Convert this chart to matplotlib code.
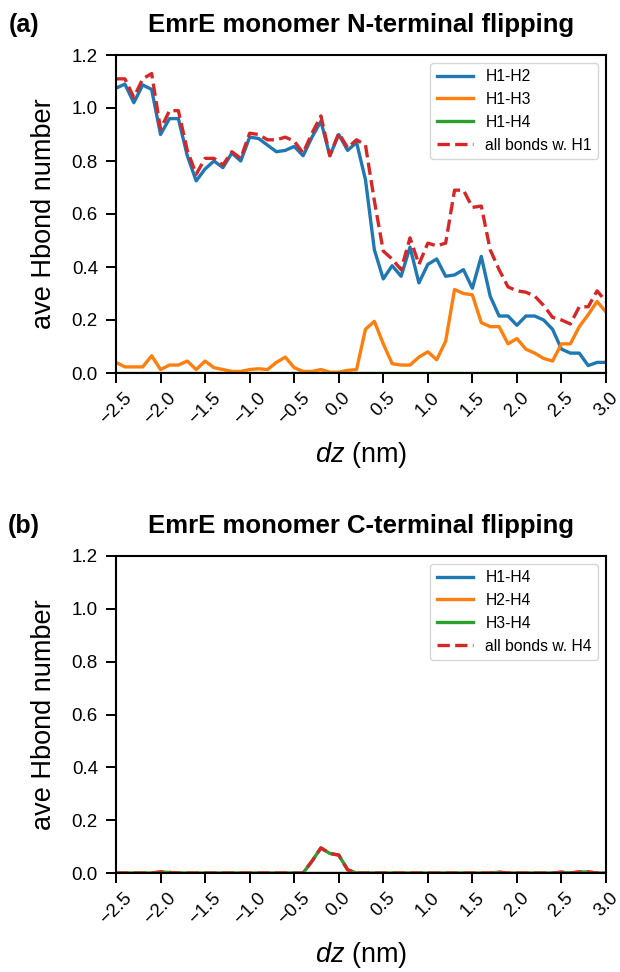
import numpy as np
import matplotlib
matplotlib.use("Agg")
import matplotlib.pyplot as plt

plt.rcParams['font.family'] = ['Liberation Sans', 'DejaVu Sans']
plt.rcParams['mathtext.fontset'] = 'custom'
plt.rcParams['mathtext.it'] = 'Liberation Sans:italic'
plt.rcParams['mathtext.rm'] = 'Liberation Sans'

# ---------------- data ----------------
dz = np.round(np.arange(-2.5, 3.0001, 0.1), 2)

# panel (a): N-terminal flipping
a_h1h2 = [1.075, 1.09, 1.02, 1.087, 1.07, 0.90, 0.96, 0.96, 0.82, 0.725,
          0.77, 0.80, 0.775, 0.83, 0.80, 0.89, 0.885, 0.86, 0.835, 0.84,
          0.855, 0.82, 0.89, 0.95, 0.82, 0.90, 0.84, 0.87, 0.73, 0.465,
          0.355, 0.405, 0.365, 0.475, 0.34, 0.41, 0.43, 0.365, 0.37, 0.39,
          0.32, 0.44, 0.29, 0.215, 0.215, 0.18, 0.215, 0.215, 0.20, 0.165,
          0.09, 0.075, 0.075, 0.028, 0.04, 0.04]
a_h1h3 = [0.04, 0.023, 0.023, 0.023, 0.065, 0.013, 0.03, 0.03, 0.045, 0.013,
          0.045, 0.02, 0.013, 0.006, 0.006, 0.013, 0.016, 0.013, 0.04, 0.06,
          0.02, 0.006, 0.006, 0.013, 0.003, 0.003, 0.01, 0.013, 0.165, 0.195,
          0.11, 0.035, 0.03, 0.03, 0.06, 0.08, 0.05, 0.12, 0.315, 0.30,
          0.295, 0.19, 0.175, 0.175, 0.11, 0.13, 0.09, 0.075, 0.055, 0.045,
          0.11, 0.11, 0.175, 0.22, 0.27, 0.23]
a_h1h4 = [0.0] * 56
a_all = [1.11, 1.11, 1.04, 1.11, 1.13, 0.92, 0.99, 0.99, 0.84, 0.75,
         0.81, 0.81, 0.785, 0.835, 0.81, 0.905, 0.90, 0.88, 0.88, 0.89,
         0.875, 0.83, 0.905, 0.97, 0.82, 0.905, 0.85, 0.88, 0.86, 0.65,
         0.46, 0.43, 0.39, 0.51, 0.41, 0.49, 0.48, 0.49, 0.69, 0.69,
         0.625, 0.63, 0.465, 0.39, 0.325, 0.31, 0.305, 0.29, 0.255, 0.21,
         0.20, 0.185, 0.25, 0.25, 0.31, 0.27]

# panel (b): C-terminal flipping
b_h1h4 = [0.0] * 56
b_h2h4 = [0.0] * 56
b_h3h4 = [0.0, 0.0, 0.0, 0.0, 0.0, 0.004, 0.002, 0.0, 0.0, 0.0,
          0.0, 0.0, 0.0, 0.0, 0.0, 0.0, 0.0, 0.0, 0.0, 0.0,
          0.0, 0.0, 0.045, 0.095, 0.074, 0.068, 0.012, 0.0, 0.0, 0.0,
          0.0, 0.0, 0.0, 0.0, 0.0, 0.0, 0.0, 0.0, 0.0, 0.0,
          0.0, 0.0, 0.0, 0.003, 0.0, 0.0, 0.0, 0.0, 0.0, 0.0,
          0.003, 0.0, 0.004, 0.004, 0.0, 0.0]
b_all = [0.0, 0.0, 0.0, 0.0, 0.0, 0.004, 0.002, 0.0, 0.0, 0.0,
         0.0, 0.0, 0.0, 0.0, 0.0, 0.0, 0.0, 0.0, 0.0, 0.0,
         0.0, 0.0, 0.045, 0.095, 0.074, 0.068, 0.012, 0.0, 0.0, 0.0,
         0.0, 0.0, 0.0, 0.0, 0.0, 0.0, 0.0, 0.0, 0.0, 0.0,
         0.0, 0.0, 0.0, 0.003, 0.0, 0.0, 0.0, 0.0, 0.0, 0.0,
         0.003, 0.0, 0.004, 0.004, 0.0, 0.0]

xticks = [-2.5, -2.0, -1.5, -1.0, -0.5, 0.0, 0.5, 1.0, 1.5, 2.0, 2.5, 3.0]
yticks = [0.0, 0.2, 0.4, 0.6, 0.8, 1.0, 1.2]

titles = ["EmrE monomer N-terminal flipping", "EmrE monomer C-terminal flipping"]
panel_tags = ["(a)", "(b)"]
labels_a = ["H1-H2", "H1-H3", "H1-H4", "all bonds w. H1"]
labels_b = ["H1-H4", "H2-H4", "H3-H4", "all bonds w. H4"]

colors = ['#1f77b4', '#ff7f0e', '#2ca02c', '#d62728']

# ---------------- figure ----------------
W, H = 620, 972
fig = plt.figure(figsize=(W / 100, H / 100), dpi=100)

def box(l, t, r, b):
    return [l / W, 1 - b / H, (r - l) / W, (b - t) / H]

ax_a = fig.add_axes(box(116, 55, 606, 373))
ax_b = fig.add_axes(box(116, 556, 606, 873))

panels = [
    (ax_a, [a_h1h2, a_h1h3, a_h1h4, a_all], labels_a),
    (ax_b, [b_h1h4, b_h2h4, b_h3h4, b_all], labels_b),
]

lw = 2.4
for ax, series, labs in panels:
    for i, (ys, lab) in enumerate(zip(series, labs)):
        ls = '--' if i == 3 else '-'
        ax.plot(dz, ys, color=colors[i], lw=lw, ls=ls, label=lab)
    ax.set_xlim(-2.5, 3.0)
    ax.set_ylim(0, 1.2)
    ax.set_xticks(xticks)
    ax.set_yticks(yticks)
    ax.set_xticklabels([f"{v:.1f}".replace('-', '\u2212') for v in xticks],
                       rotation=45)
    ax.set_yticklabels([f"{v:.1f}" for v in yticks])
    ax.tick_params(axis='both', labelsize=13.5, length=7, width=1.4)
    ax.tick_params(axis='x', pad=5)
    ax.tick_params(axis='y', pad=6)
    for sp in ax.spines.values():
        sp.set_linewidth(1.5)
    ax.set_ylabel("ave Hbond number", fontsize=19.5)
    ax.set_xlabel(r"$dz$ (nm)", fontsize=19.5)
    ax.yaxis.set_label_coords(-0.12, 0.5)
    ax.xaxis.set_label_coords(0.5, -0.21)
    ax.legend(loc='upper right', fontsize=11.3, handlelength=2.3)

# titles and panel tags
cx = (116 + 606) / 2 / W
fig.text(cx, 1 - 32 / H, titles[0], ha='center', va='baseline',
         fontsize=18.5, fontweight='bold')
fig.text(cx, 1 - 533 / H, titles[1], ha='center', va='baseline',
         fontsize=18.5, fontweight='bold')
fig.text(9 / W, 1 - 32 / H, panel_tags[0], ha='left', va='baseline',
         fontsize=18, fontweight='bold')
fig.text(8 / W, 1 - 533 / H, panel_tags[1], ha='left', va='baseline',
         fontsize=18, fontweight='bold')

fig.savefig("out.png", dpi=100)
